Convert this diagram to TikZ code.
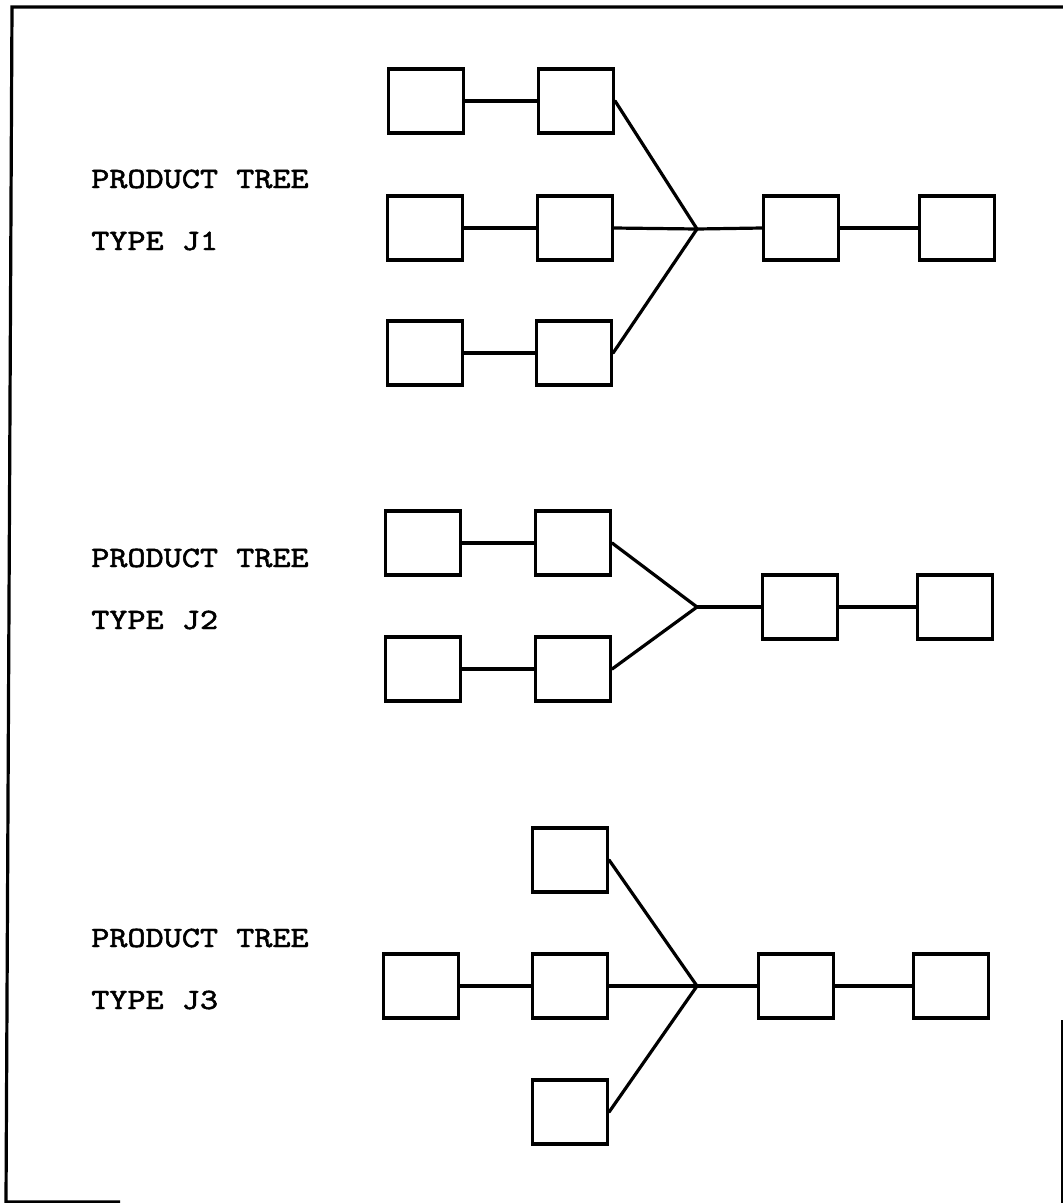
\documentclass[tikz,border=0pt]{standalone}
\usepackage{fontspec}
\newfontfamily\typefont[FakeBold=1.6]{lmmono10-regular.otf}
\begin{document}
\begin{tikzpicture}[x=1pt,y=-1pt,
  part/.style={draw,line width=3.2pt,minimum width=75pt,minimum height=64pt,inner sep=0pt,fill=white},
  link/.style={line width=3.2pt,line cap=round},
  caption/.style={anchor=base west,inner sep=0pt,xscale=1.17,transform shape,
    font=\typefont\fontsize{29.5}{36}\selectfont}]
\useasboundingbox (0,0) rectangle (1063,1203);

% sheet frame
\coordinate (fTL) at (12,7);
\coordinate (fTR) at (1063,7);
\coordinate (fBL) at (6,1202);
\coordinate (fBR) at (120,1202);
\coordinate (fR1) at (1062,1020);
\coordinate (fR2) at (1062,1203);
\draw[line width=3.2pt] (fTR) -- (fTL) -- (fBL) -- (fBR);
\draw[line width=2.6pt] (fR1) -- (fR2);

% ---------- type J1 ----------
\node[caption] (t1a) at (91,188) {PRODUCT TREE};
\node[caption] (t1b) at (91,250) {TYPE J1};
\node[part] (j1a1) at (426,101) {};
\node[part] (j1b1) at (576,101) {};
\node[part] (j1a2) at (425,228) {};
\node[part] (j1b2) at (575,228) {};
\node[part] (j1a3) at (425,353) {};
\node[part] (j1b3) at (574,353) {};
\node[part] (j1c) at (801,228) {};
\node[part] (j1d) at (957,228) {};
\coordinate (j1x) at (697,229);
\draw[link] (j1a1) -- (j1b1);
\draw[link] (j1a2) -- (j1b2);
\draw[link] (j1a3) -- (j1b3);
\draw[link] (j1b1.east) -- (j1x);
\draw[link] (j1b2.east) -- (j1x);
\draw[link] (j1b3.east) -- (j1x);
\draw[link] (j1x) -- (j1c.west);
\draw[link] (j1c) -- (j1d);

% ---------- type J2 ----------
\node[caption] (t2a) at (91,567) {PRODUCT TREE};
\node[caption] (t2b) at (91,629) {TYPE J2};
\node[part] (j2a1) at (423,543) {};
\node[part] (j2b1) at (573,543) {};
\node[part] (j2a2) at (423,669) {};
\node[part] (j2b2) at (573,669) {};
\node[part] (j2c) at (800,607) {};
\node[part] (j2d) at (955,607) {};
\coordinate (j2x) at (697,607);
\draw[link] (j2a1) -- (j2b1);
\draw[link] (j2a2) -- (j2b2);
\draw[link] (j2b1.east) -- (j2x);
\draw[link] (j2b2.east) -- (j2x);
\draw[link] (j2x) -- (j2c.west);
\draw[link] (j2c) -- (j2d);

% ---------- type J3 ----------
\node[caption] (t3a) at (91,947) {PRODUCT TREE};
\node[caption] (t3b) at (91,1009) {TYPE J3};
\node[part] (j3t) at (570,860) {};
\node[part] (j3a) at (421,986) {};
\node[part] (j3b) at (570,986) {};
\node[part] (j3u) at (570,1112) {};
\node[part] (j3c) at (796,986) {};
\node[part] (j3d) at (951,986) {};
\coordinate (j3x) at (697,986);
\draw[link] (j3a) -- (j3b);
\draw[link] (j3t.east) -- (j3x);
\draw[link] (j3b.east) -- (j3x);
\draw[link] (j3u.east) -- (j3x);
\draw[link] (j3x) -- (j3c.west);
\draw[link] (j3c) -- (j3d);
\end{tikzpicture}
\end{document}
